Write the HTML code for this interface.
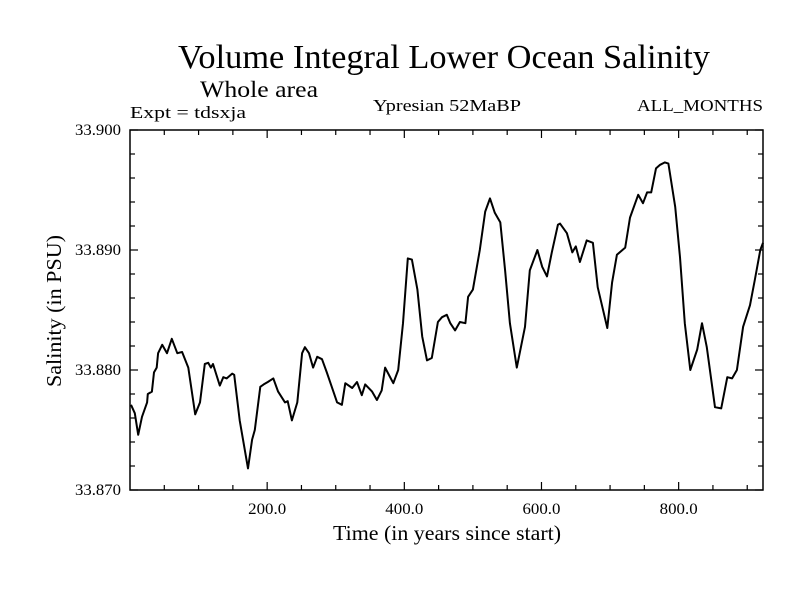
<!DOCTYPE html>
<html><head><meta charset="utf-8"><style>
body{margin:0;background:#fff}
svg text{font-family:"Liberation Serif",serif;fill:#000}
</style></head><body>
<svg id="chart" width="800" height="600" viewBox="0 0 800 600" xmlns="http://www.w3.org/2000/svg">
<rect width="800" height="600" fill="#fff"/>
<text x="178" y="68" font-size="34" textLength="532" lengthAdjust="spacingAndGlyphs">Volume Integral Lower Ocean Salinity</text>
<text x="200" y="97" font-size="23" textLength="118" lengthAdjust="spacingAndGlyphs">Whole area</text>
<text x="130" y="118" font-size="17" textLength="116" lengthAdjust="spacingAndGlyphs">Expt = tdsxja</text>
<text x="373" y="111" font-size="17" textLength="148" lengthAdjust="spacingAndGlyphs">Ypresian  52MaBP</text>
<text x="637" y="111" font-size="17" textLength="126" lengthAdjust="spacingAndGlyphs">ALL_MONTHS</text>
<text x="333" y="540" font-size="21" textLength="228" lengthAdjust="spacingAndGlyphs">Time (in years since start)</text>
<text x="0" y="0" font-size="21" text-anchor="middle" textLength="152" lengthAdjust="spacingAndGlyphs" transform="translate(61,311) rotate(-90)">Salinity (in PSU)</text>
<g id="axes"></g>
<path id="line" fill="none" stroke="#000" stroke-width="2" stroke-linejoin="round"/>
<rect x="130" y="130" width="633" height="360" fill="none" stroke="#000" stroke-width="1.5"/>
</svg>
<script>
const years=[1.5,7,12,17.5,25,26,32,35,39,41,47,54,61,69,76,85,95,102,109,114,118,121,131,136,141,149,152,160,172,178,182,190,195,201,209,216,226,230,236,244,251,255,261,267,273,280,287,296,302,309,314,324,331,338,343,353,360,367,372,384,391,398,405,411,419,426,433,440,449,455,462,467,474,481,489,493,500,510,518,525,532,540,547,554,564,576,583,594,601,608,615,624,627,637,645,650,656,666,675,682,696,703,710,722,729,741,748,754,760,767,773,780,785,795,802,809,817,827,834,841,853,862,871,878,885,894,904,911,919,923];
const salinity=[33.8771,33.8764,33.8746,33.8761,33.8773,33.8780,33.8782,33.8798,33.8802,33.8814,33.8821,33.8814,33.8826,33.8814,33.8815,33.8802,33.8763,33.8773,33.8805,33.8806,33.8802,33.8805,33.8787,33.8794,33.8793,33.8797,33.8796,33.8758,33.8718,33.8742,33.8750,33.8786,33.8788,33.8790,33.8793,33.8782,33.8773,33.8774,33.8758,33.8773,33.8814,33.8819,33.8814,33.8802,33.8811,33.8809,33.8798,33.8783,33.8773,33.8771,33.8789,33.8785,33.8790,33.8779,33.8788,33.8782,33.8775,33.8783,33.8802,33.8789,33.8800,33.8839,33.8893,33.8892,33.8867,33.8828,33.8808,33.8810,33.8840,33.8844,33.8846,33.8839,33.8833,33.8840,33.8839,33.8861,33.8867,33.8900,33.8932,33.8943,33.8931,33.8923,33.8883,33.8839,33.8802,33.8836,33.8883,33.8900,33.8886,33.8878,33.8898,33.8921,33.8922,33.8914,33.8898,33.8903,33.8890,33.8908,33.8906,33.8869,33.8835,33.8873,33.8896,33.8902,33.8927,33.8946,33.8939,33.8948,33.8948,33.8968,33.8971,33.8973,33.8972,33.8936,33.8894,33.8839,33.8800,33.8817,33.8839,33.8819,33.8769,33.8768,33.8794,33.8793,33.8800,33.8836,33.8854,33.8875,33.8900,33.8906];
const xTickLabels=["200.0","400.0","600.0","800.0"];
const xTickValues=[200,400,600,800];
const yTickLabels=["33.870","33.880","33.890","33.900"];
const yTickValues=[33.870,33.880,33.890,33.900];

const X0=130,X1=763,Y0=490,Y1=130,XMIN=0,XMAX=923,YMIN=33.870,YMAX=33.900;
const sx=v=>X0+(v-XMIN)/(XMAX-XMIN)*(X1-X0);
const sy=v=>Y0-(v-YMIN)/(YMAX-YMIN)*(Y0-Y1);
const NS="http://www.w3.org/2000/svg";
const ax=document.getElementById('axes');
function ln(x1,y1,x2,y2,name){const l=document.createElementNS(NS,'line');l.setAttribute('x1',x1);l.setAttribute('y1',y1);l.setAttribute('x2',x2);l.setAttribute('y2',y2);l.setAttribute('stroke','#000');l.setAttribute('stroke-width','1.2');


ax.appendChild(l);}
function tx(x,y,s,anchor,w,name){const t=document.createElementNS(NS,'text');t.setAttribute('x',x);t.setAttribute('y',y);t.setAttribute('font-size','16');t.setAttribute('text-anchor',anchor);t.setAttribute('textLength',w);t.setAttribute('lengthAdjust','spacingAndGlyphs');t.textContent=s;


ax.appendChild(t);}
for(let v=50;v<XMAX;v+=50){const x=sx(v);const L=(v%200===0)?8:5;ln(x,Y0,x,Y0-L,'x-tick');ln(x,Y1,x,Y1+L,'x-tick-top');}
for(let i=0;i<=15;i++){const v=YMIN+i*0.002;const y=sy(v);const major=Math.abs(((v-YMIN)/0.01)-Math.round((v-YMIN)/0.01))<1e-6;const L=major?8:5;ln(X0,y,X0+L,y,'y-tick');ln(X1,y,X1-L,y,'y-tick-right');}
xTickLabels.forEach((s,i)=>tx(sx(xTickValues[i]),514,s,'middle',38,'x-tick-label'));
yTickLabels.forEach((s,i)=>tx(121,sy(yTickValues[i])+5,s,'end',46,'y-tick-label'));
document.getElementById('line').setAttribute('d',years.map((y,i)=>(i?'L':'M')+sx(y).toFixed(1)+' '+sy(salinity[i]).toFixed(1)).join(' '));
</script>
</body></html>
